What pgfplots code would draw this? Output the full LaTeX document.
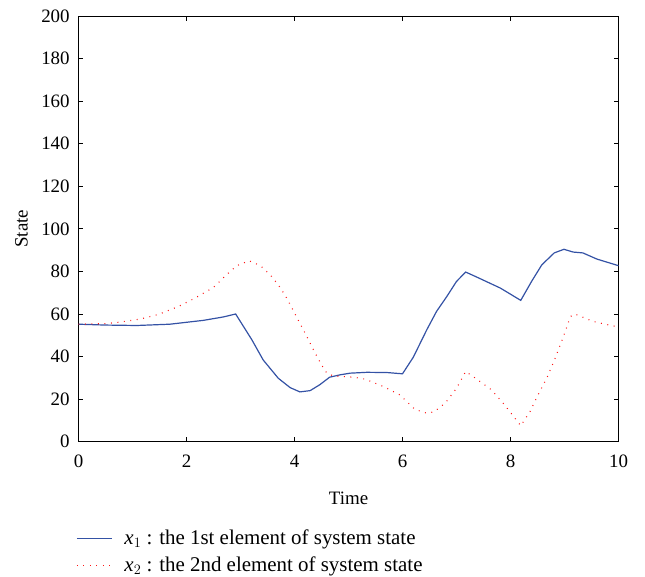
\documentclass[border=0pt]{standalone}
\usepackage{fontspec}
\setmainfont{Liberation Serif}
\usepackage{pgfplots}
\pgfplotsset{compat=1.18}
\definecolor{xblue}{RGB}{52,82,165}
\definecolor{xred}{RGB}{255,20,20}
\begin{document}
\fontsize{20}{24}\selectfont
\begin{tikzpicture}
\path[use as bounding box] (0,0) rectangle (645bp,-577bp);
\begin{axis}[
  at={(78.5bp,-16bp)}, anchor=north west,
  width=540bp, height=425.7bp, scale only axis,
  xmin=0, xmax=10, ymin=0, ymax=200,
  xtick={0,2,4,6,8,10}, ytick={0,20,...,200},
  tick align=inside, major tick length=5bp,
  tick style={black, line width=0.8bp},
  axis line style={black, line width=0.9bp},
  /pgf/number format/assume math mode=true,
  tick label style={font=\fontsize{19}{22}\selectfont},
  xticklabel style={yshift=-6bp},
  yticklabel style={xshift=-2bp},
  label style={font=\fontsize{19}{22}\selectfont},
  xlabel={Time}, ylabel={State},
  xlabel style={yshift=-11bp},
  ylabel style={yshift=0bp},
  legend cell align=left,
  legend style={draw=none, fill=none, at={(-0.01,-0.197)}, anchor=north west,
    font=\fontsize{21}{25}\selectfont, row sep=5bp,
    /tikz/every even column/.append style={column sep=0bp}},
  legend image code/.code={\draw[#1] (0bp,0bp) -- (35bp,0bp);},
]
\addplot[xblue, line width=1.2bp] coordinates {
(0,55.2)(0.5,54.8)(1.08,54.6)(1.69,55.2)(2.31,57.0)(2.68,58.6)(2.91,60.0)(3.21,47.9)(3.42,38.4)(3.70,29.8)(3.92,25.4)(4.10,23.4)(4.29,24.0)(4.47,26.8)(4.65,30.3)(4.84,31.4)(5.03,32.2)(5.34,32.6)(5.71,32.5)(6.00,31.9)(6.20,39.7)(6.45,52.6)(6.63,61.2)(6.82,68.2)(7.00,75.3)(7.17,79.7)(7.37,77.4)(7.81,72.2)(8.19,66.4)(8.39,75.3)(8.58,83.1)(8.81,88.7)(8.99,90.4)(9.16,89.1)(9.34,88.7)(9.60,85.8)(10,82.7)
};
\addlegendentry{\hspace{10bp}{\itshape x}$_1$ : the 1st element of system state}
\addplot[xred, line width=1.1bp, dash pattern=on 0.9bp off 5.6bp] coordinates {
(0,55.2)(0.52,55.5)(0.77,56.2)(1.14,57.6)(1.48,59.8)(1.85,63.5)(2.16,67.5)(2.50,72.5)(2.74,78.4)(2.93,82.7)(3.16,85.0)(3.37,82.7)(3.55,78.4)(3.71,73.3)(3.84,68.2)(4.01,60.0)(4.19,51.3)(4.35,43.2)(4.50,36.1)(4.60,32.2)(4.72,30.9)(5.09,30.3)(5.31,29.4)(5.65,25.9)(5.95,22.0)(6.23,15.2)(6.45,13.4)(6.58,14.0)(6.79,18.1)(7.00,25.1)(7.17,33.0)(7.37,29.5)(7.65,24.3)(7.90,17.0)(8.19,7.5)(8.36,14.1)(8.51,22.0)(8.67,29.8)(8.82,38.8)(8.98,49.4)(9.11,58.8)(9.19,60.0)(9.53,56.5)(9.90,54.4)(10,54.0)
};
\addlegendentry{\hspace{10bp}{\itshape x}$_2$ : the 2nd element of system state}
\end{axis}
\end{tikzpicture}
\end{document}
